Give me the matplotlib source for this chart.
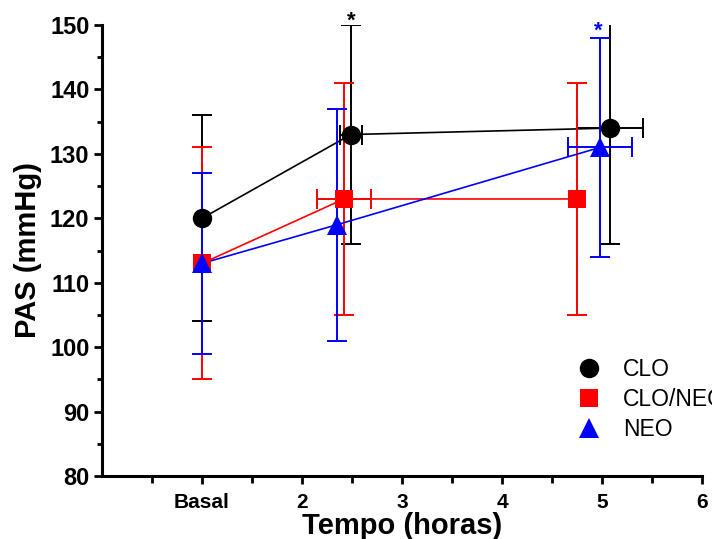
import matplotlib
matplotlib.use("Agg")
import matplotlib.pyplot as plt
from matplotlib.lines import Line2D
import numpy as np

plt.rcParams['font.family'] = ['Liberation Sans', 'DejaVu Sans']

# Data
tick_labels = ["Basal", "2", "3", "4", "5", "6"]
tick_pos = [1, 2, 3, 4, 5, 6]

clo_x = [1.0, 2.49, 5.08]
clo_y = [120, 133, 134]
clo_yerr = [16, 17, 18]
clo_xerr = [0.0, 0.11, 0.33]

cn_x = [1.0, 2.42, 4.75]
cn_y = [113, 123, 123]
cn_yerr = [18, 18, 18]
cn_xerr = [0.0, 0.27, 0.0]

neo_x = [1.0, 2.35, 4.98]
neo_y = [113, 119, 131]
neo_yerr = [14, 18, 17]
neo_xerr = [0.0, 0.0, 0.32]

series = [
    ("CLO", clo_x, clo_y, clo_xerr, clo_yerr, "black", "o", 14),
    ("CLO/NEO", cn_x, cn_y, cn_xerr, cn_yerr, "#ff0000", "s", 13.5),
    ("NEO", neo_x, neo_y, neo_xerr, neo_yerr, "#0000ff", "^", 15),
]

fig = plt.figure(figsize=(7.12, 5.39), dpi=100)
ax = fig.add_axes([102/712, 63/539, 600/712, 451/539])

handles = []
for i, (lab, x, y, xe, ye, c, m, ms) in enumerate(series):
    ax.plot(x, y, color=c, lw=1.2, zorder=2 + i)
    ax.errorbar(x, y, yerr=ye, xerr=[v if v > 0 else np.nan for v in xe],
                fmt='none', ecolor=c, elinewidth=1.4, capsize=7.2,
                capthick=1.4, zorder=2 + i)
    ax.plot(x, y, linestyle='none', marker=m, color=c, markersize=ms,
            markeredgewidth=0, zorder=5 + i)
    handles.append(Line2D([], [], linestyle='none', marker=m, color=c,
                          markersize=ms, markeredgewidth=0, label=lab))

# significance stars
ax.text(2.49, 148.9, "*", color="black", ha="center", va="bottom",
        fontsize=16, fontweight="bold", clip_on=False)
ax.text(4.96, 147.4, "*", color="#0000ff", ha="center", va="bottom",
        fontsize=16, fontweight="bold", clip_on=False)

ax.set_xlim(0, 6)
ax.set_ylim(80, 150)
ax.set_xticks(tick_pos)
ax.set_xticklabels(tick_labels, fontsize=15, fontweight="bold")
ax.set_xticks(np.arange(0.5, 6.01, 1.0), minor=True)
ax.set_yticks(np.arange(80, 151, 10))
ax.set_yticks(np.arange(85, 150, 10), minor=True)
for lbl in ax.get_yticklabels():
    lbl.set_fontsize(17)
    lbl.set_fontweight("bold")

for s in ["top", "right"]:
    ax.spines[s].set_visible(False)
for s in ["left", "bottom"]:
    ax.spines[s].set_linewidth(2.2)

ax.tick_params(axis='both', which='major', width=2, length=6, direction='out', pad=3)
ax.tick_params(axis='y', which='minor', width=2, length=3.5, direction='out')
ax.tick_params(axis='x', which='minor', width=2, length=5, direction='out')
ax.tick_params(axis='x', which='major', pad=6)

ax.set_xlabel("Tempo (horas)", fontsize=21, fontweight="bold", labelpad=0)
ax.set_ylabel("PAS (mmHg)", fontsize=21, fontweight="bold", labelpad=6)

leg = ax.legend(handles=handles, loc="upper left",
                bbox_to_anchor=(575/712, 1 - 358/539), bbox_transform=fig.transFigure,
                frameon=False, fontsize=16.5, handlelength=1.2, handletextpad=0.9,
                labelspacing=0.3, borderpad=0, borderaxespad=0)

fig.savefig("out.png", dpi=100)
